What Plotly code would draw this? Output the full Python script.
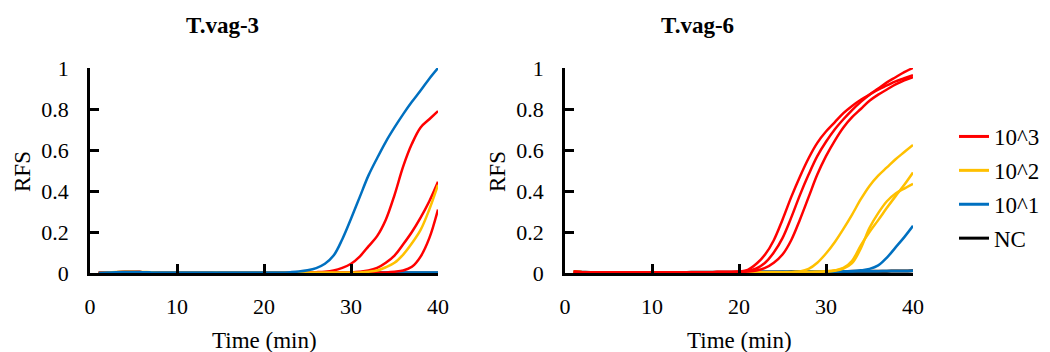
import plotly.graph_objects as go

# ---------------- data ----------------
TIME = list(range(1, 41))  # minutes 1..40

# T.vag-3 (left panel)
L_RED_A = [0.000, 0.002, 0.004, 0.005, 0.005, 0.004, 0.003, 0.002, 0.002, 0.002,
           0.002, 0.002, 0.002, 0.002, 0.002, 0.002, 0.002, 0.002, 0.002, 0.002,
           0.002, 0.002, 0.002, 0.003, 0.003, 0.004, 0.006, 0.012, 0.025, 0.045,
           0.080, 0.130, 0.180, 0.260, 0.380, 0.520, 0.630, 0.710, 0.750, 0.790]
L_RED_B = [0.000, 0.002, 0.004, 0.005, 0.005, 0.004, 0.003, 0.002, 0.002, 0.002,
           0.002, 0.002, 0.002, 0.002, 0.002, 0.002, 0.002, 0.002, 0.002, 0.002,
           0.002, 0.002, 0.002, 0.002, 0.002, 0.002, 0.002, 0.002, 0.002, 0.003,
           0.006, 0.012, 0.025, 0.050, 0.085, 0.140, 0.200, 0.270, 0.350, 0.445]
L_RED_C = [0.000, 0.002, 0.004, 0.005, 0.005, 0.004, 0.003, 0.002, 0.002, 0.002,
           0.002, 0.002, 0.002, 0.002, 0.002, 0.002, 0.002, 0.002, 0.002, 0.002,
           0.002, 0.002, 0.002, 0.002, 0.002, 0.002, 0.002, 0.002, 0.002, 0.002,
           0.002, 0.002, 0.002, 0.003, 0.006, 0.012, 0.030, 0.080, 0.170, 0.310]
L_YEL_A = [0.000, 0.003, 0.005, 0.006, 0.006, 0.005, 0.004, 0.003, 0.002, 0.002,
           0.002, 0.002, 0.002, 0.003, 0.003, 0.002, 0.002, 0.002, 0.002, 0.002,
           0.002, 0.002, 0.002, 0.002, 0.002, 0.002, 0.002, 0.002, 0.002, 0.002,
           0.003, 0.006, 0.012, 0.028, 0.050, 0.090, 0.145, 0.210, 0.310, 0.430]
L_BLU_A = [0.000, 0.002, 0.004, 0.005, 0.005, 0.004, 0.003, 0.002, 0.002, 0.002,
           0.002, 0.002, 0.002, 0.002, 0.002, 0.002, 0.002, 0.002, 0.002, 0.002,
           0.002, 0.002, 0.004, 0.007, 0.013, 0.024, 0.045, 0.085, 0.165, 0.265,
           0.370, 0.475, 0.560, 0.640, 0.710, 0.775, 0.835, 0.890, 0.948, 1.000]
L_BLU_B = [0.000, 0.002, 0.004, 0.005, 0.005, 0.004, 0.003, 0.002, 0.002, 0.002,
           0.002, 0.002, 0.002, 0.002, 0.002, 0.002, 0.002, 0.002, 0.002, 0.002,
           0.002, 0.002, 0.002, 0.002, 0.002, 0.002, 0.002, 0.002, 0.002, 0.002,
           0.002, 0.002, 0.002, 0.002, 0.002, 0.002, 0.002, 0.002, 0.002, 0.002]
L_NC = [0.001] * 40

# T.vag-6 (right panel)
R_RED_A = [0.006, 0.004, 0.003, 0.003, 0.003, 0.003, 0.003, 0.003, 0.003, 0.003,
           0.003, 0.003, 0.003, 0.003, 0.004, 0.004, 0.004, 0.005, 0.005, 0.007,
           0.015, 0.045, 0.090, 0.160, 0.260, 0.370, 0.470, 0.560, 0.635, 0.690,
           0.735, 0.780, 0.815, 0.845, 0.870, 0.895, 0.915, 0.935, 0.950, 0.965]
R_RED_B = [0.006, 0.004, 0.003, 0.003, 0.003, 0.003, 0.003, 0.003, 0.003, 0.003,
           0.003, 0.003, 0.003, 0.003, 0.004, 0.004, 0.004, 0.005, 0.005, 0.006,
           0.010, 0.022, 0.050, 0.100, 0.170, 0.270, 0.380, 0.480, 0.570, 0.640,
           0.700, 0.750, 0.795, 0.835, 0.870, 0.900, 0.930, 0.955, 0.980, 1.000]
R_RED_C = [0.006, 0.004, 0.003, 0.003, 0.003, 0.003, 0.003, 0.003, 0.003, 0.003,
           0.003, 0.003, 0.003, 0.003, 0.004, 0.004, 0.004, 0.005, 0.005, 0.005,
           0.007, 0.012, 0.025, 0.050, 0.090, 0.160, 0.260, 0.370, 0.480, 0.570,
           0.645, 0.710, 0.760, 0.800, 0.840, 0.870, 0.895, 0.920, 0.940, 0.955]
R_YEL_A = [0.006, 0.004, 0.003, 0.003, 0.003, 0.003, 0.003, 0.003, 0.003, 0.003,
           0.003, 0.003, 0.003, 0.003, 0.004, 0.004, 0.004, 0.004, 0.004, 0.004,
           0.004, 0.004, 0.004, 0.004, 0.004, 0.005, 0.008, 0.020, 0.050, 0.095,
           0.150, 0.215, 0.285, 0.360, 0.425, 0.475, 0.515, 0.555, 0.590, 0.625]
R_YEL_B = [0.006, 0.004, 0.003, 0.003, 0.003, 0.003, 0.003, 0.003, 0.003, 0.003,
           0.003, 0.003, 0.003, 0.003, 0.004, 0.004, 0.004, 0.004, 0.004, 0.004,
           0.004, 0.004, 0.004, 0.004, 0.004, 0.004, 0.005, 0.005, 0.006, 0.008,
           0.013, 0.025, 0.060, 0.135, 0.200, 0.258, 0.318, 0.375, 0.430, 0.490]
R_YEL_C = [0.006, 0.004, 0.003, 0.003, 0.003, 0.003, 0.003, 0.003, 0.003, 0.003,
           0.003, 0.003, 0.003, 0.003, 0.004, 0.004, 0.004, 0.004, 0.004, 0.004,
           0.004, 0.004, 0.004, 0.004, 0.004, 0.004, 0.005, 0.005, 0.006, 0.007,
           0.011, 0.022, 0.048, 0.120, 0.220, 0.292, 0.350, 0.388, 0.412, 0.435]
R_BLU_A = [0.006, 0.004, 0.003, 0.003, 0.003, 0.003, 0.003, 0.003, 0.003, 0.003,
           0.003, 0.003, 0.003, 0.003, 0.004, 0.004, 0.004, 0.004, 0.004, 0.004,
           0.004, 0.004, 0.004, 0.004, 0.004, 0.004, 0.004, 0.004, 0.005, 0.005,
           0.006, 0.007, 0.009, 0.013, 0.020, 0.037, 0.075, 0.125, 0.175, 0.230]
R_BLU_B = [0.006, 0.004, 0.003, 0.003, 0.003, 0.003, 0.003, 0.003, 0.003, 0.003,
           0.003, 0.003, 0.003, 0.003, 0.004, 0.004, 0.004, 0.004, 0.004, 0.004,
           0.005, 0.005, 0.005, 0.005, 0.006, 0.006, 0.006, 0.007, 0.007, 0.007,
           0.008, 0.008, 0.008, 0.009, 0.009, 0.009, 0.010, 0.010, 0.010, 0.011]
R_NC = [0.005, 0.004, 0.003, 0.003, 0.003, 0.003, 0.003, 0.003, 0.003, 0.003,
        0.003, 0.003, 0.003, 0.003, 0.004, 0.004, 0.004, 0.004, 0.004, 0.004,
        0.005, 0.005, 0.005, 0.005, 0.005, 0.006, 0.006, 0.006, 0.006, 0.007,
        0.007, 0.007, 0.008, 0.008, 0.008, 0.009, 0.009, 0.010, 0.010, 0.011]

LABELS = ["10^3", "10^2", "10^1", "NC"]
COLORS = {"10^3": "#FF0000", "10^2": "#FFC000", "10^1": "#0070C0", "NC": "#000000"}

LEFT = [("NC", L_NC), ("10^1", L_BLU_B), ("10^3", L_RED_A), ("10^3", L_RED_B),
        ("10^3", L_RED_C), ("10^2", L_YEL_A), ("10^1", L_BLU_A)]
RIGHT = [("NC", R_NC), ("10^1", R_BLU_B), ("10^1", R_BLU_A), ("10^2", R_YEL_A),
         ("10^2", R_YEL_B), ("10^2", R_YEL_C), ("10^3", R_RED_A), ("10^3", R_RED_B),
         ("10^3", R_RED_C)]

FONT = "Liberation Serif"

fig = go.Figure()

for lab, ys in LEFT:
    fig.add_trace(go.Scatter(x=TIME, y=ys, mode="lines", xaxis="x", yaxis="y",
                             line=dict(color=COLORS[lab], width=2.5, shape="spline", smoothing=1.0),
                             legendgroup=lab, showlegend=False, name=lab))

for lab, ys in RIGHT:
    fig.add_trace(go.Scatter(x=TIME, y=ys, mode="lines", xaxis="x2", yaxis="y2",
                             line=dict(color=COLORS[lab], width=3 if lab == "NC" else 2.5,
                                       shape="spline", smoothing=1.0),
                             legendgroup=lab, showlegend=False, name=lab))

# legend entries in the desired order
for lab in LABELS:
    fig.add_trace(go.Scatter(x=[None], y=[None], mode="lines", xaxis="x2", yaxis="y2",
                             line=dict(color=COLORS[lab], width=3),
                             legendgroup=lab, showlegend=True, name=lab))

W, H = 1050, 352
ML, MR, MT, MB = 90, 137, 68, 79
PW = W - ML - MR

def px(xpix):
    return (xpix - ML) / PW

def py(ypix):
    return (H - MB - ypix) / (H - MT - MB)

axis_common = dict(showline=True, linecolor="black", linewidth=2.5, ticks="inside",
                   ticklen=9, tickwidth=2.5, tickcolor="black", showgrid=False,
                   zeroline=False, tickfont=dict(family=FONT, size=22, color="black"))

fig.update_layout(
    width=W, height=H, margin=dict(l=ML, r=MR, t=MT, b=MB, autoexpand=False),
    paper_bgcolor="white", plot_bgcolor="white",
    font=dict(family=FONT, color="black"),
    xaxis=dict(domain=[0, px(438)], range=[0, 40], dtick=10, ticklabelstandoff=12,
               anchor="y", **axis_common),
    yaxis=dict(domain=[0, 1], range=[0, 1], dtick=0.2, ticklabelstandoff=14,
               anchor="x", **axis_common),
    xaxis2=dict(domain=[px(565), 1], range=[0, 40], dtick=10, ticklabelstandoff=12,
                anchor="y2", **axis_common),
    yaxis2=dict(domain=[0, 1], range=[0, 1], dtick=0.2, ticklabelstandoff=14,
                anchor="x2", **axis_common),
    legend=dict(x=px(954), y=py(115), xanchor="left", yanchor="top",
                traceorder="grouped", tracegroupgap=1,
                font=dict(family=FONT, size=23, color="black"), bgcolor="rgba(0,0,0,0)"),
    showlegend=True,
)

ann_font = dict(family=FONT, size=23, color="black")
annotations = [
    dict(text="<b>T.vag-3</b>", x=px(222), y=py(25)),
    dict(text="<b>T.vag-6</b>", x=px(697), y=py(25)),
    dict(text="RFS", x=px(22), y=py(172), textangle=-90),
    dict(text="RFS", x=px(497), y=py(172), textangle=-90),
    dict(text="Time (min)", x=px(264), y=py(340)),
    dict(text="Time (min)", x=px(739), y=py(340)),
]
for a in annotations:
    a.update(xref="paper", yref="paper", xanchor="center", yanchor="middle",
             showarrow=False, font=ann_font)
fig.update_layout(annotations=annotations)

fig.write_html("out.html")
